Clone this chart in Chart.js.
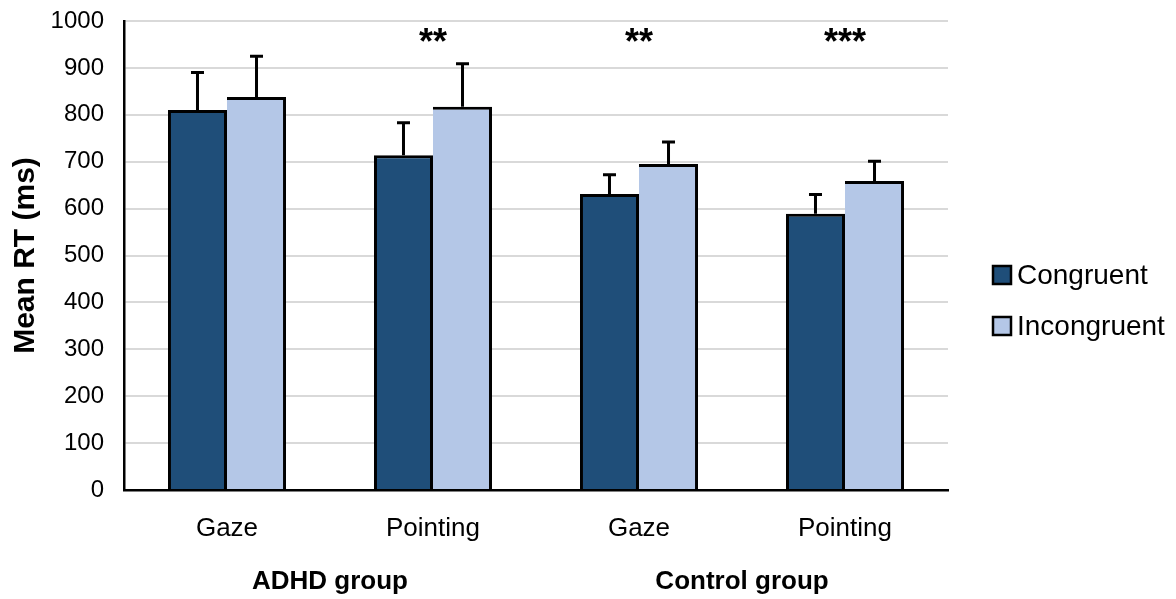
<!DOCTYPE html>
<html>
<head>
<meta charset="utf-8">
<script src="https://cdn.jsdelivr.net/npm/chart.js@4.4.1/dist/chart.umd.min.js"></script>
<style>
  html, body { margin: 0; padding: 0; background: #fff; }
  #wrap { width: 1176px; height: 599px; position: relative; }
</style>
</head>
<body>
<div id="wrap"><canvas id="c" width="1176" height="599"></canvas></div>
<script>
const categories = ['Gaze', 'Pointing', 'Gaze', 'Pointing'];
const groupLabels = ['ADHD group', 'Control group'];
const seriesNames = ['Congruent', 'Incongruent'];
const congruent = [810, 714, 631, 589];
const incongruent = [838, 817, 695, 659];
const congruentErr = [80, 69, 41, 41];
const incongruentErr = [87, 92, 47, 42];
const significance = ['', '**', '**', '***'];
const yTicks = [0, 100, 200, 300, 400, 500, 600, 700, 800, 900, 1000];

const DARK = '#1f4e79';
const LIGHT = '#b4c7e7';
const FONT = '"Liberation Sans", Arial, sans-serif';

Chart.defaults.font.family = FONT;
Chart.defaults.color = '#000';

const errors = [congruentErr, incongruentErr];

const overlay = {
  id: 'overlay',
  afterDatasetsDraw(chart) {
    const ctx = chart.ctx;
    const y = chart.scales.y;
    const x = chart.scales.x;
    ctx.save();
    // error bars (upper only)
    ctx.strokeStyle = '#000';
    ctx.lineWidth = 3;
    chart.data.datasets.forEach((ds, di) => {
      const meta = chart.getDatasetMeta(di);
      meta.data.forEach((bar, i) => {
        const top = y.getPixelForValue(ds.data[i] + errors[di][i]);
        const base = y.getPixelForValue(ds.data[i]);
        ctx.beginPath();
        ctx.moveTo(bar.x, base);
        ctx.lineTo(bar.x, top);
        ctx.moveTo(bar.x - 6.5, top);
        ctx.lineTo(bar.x + 6.5, top);
        ctx.stroke();
      });
    });
    // significance stars
    ctx.fillStyle = '#000';
    ctx.font = 'bold 36px ' + FONT;
    ctx.textAlign = 'center';
    ctx.textBaseline = 'middle';
    significance.forEach((s, i) => {
      if (s) ctx.fillText(s, x.getPixelForValue(i), 44);
    });
    // group labels
    ctx.font = 'bold 26px ' + FONT;
    groupLabels.forEach((g, gi) => {
      const cx = (x.getPixelForValue(gi * 2) + x.getPixelForValue(gi * 2 + 1)) / 2;
      ctx.fillText(g, cx, 582);
    });
    // legend
    ctx.textAlign = 'left';
    ctx.font = '28px ' + FONT;
    const colors = [DARK, LIGHT];
    const legendY = [275, 326];
    seriesNames.forEach((n, i) => {
      ctx.fillStyle = colors[i];
      ctx.fillRect(993, legendY[i] - 9, 18, 18);
      ctx.lineWidth = 2.5;
      ctx.strokeStyle = '#000';
      ctx.strokeRect(993, legendY[i] - 9, 18, 18);
      ctx.fillStyle = '#000';
      ctx.fillText(n, 1017, legendY[i] + 1);
    });
    ctx.restore();
  }
};

new Chart(document.getElementById('c'), {
  type: 'bar',
  data: {
    labels: categories,
    datasets: [
      {
        label: seriesNames[0],
        data: congruent,
        backgroundColor: DARK,
        borderColor: '#000',
        borderWidth: { top: 3, left: 3, right: 3, bottom: 0 },
        borderSkipped: false,
        categoryPercentage: 0.573,
        barPercentage: 1.0
      },
      {
        label: seriesNames[1],
        data: incongruent,
        backgroundColor: LIGHT,
        borderColor: '#000',
        borderWidth: { top: 3, left: 0, right: 3, bottom: 0 },
        borderSkipped: false,
        categoryPercentage: 0.573,
        barPercentage: 1.0
      }
    ]
  },
  options: {
    responsive: false,
    animation: false,
    layout: { padding: { left: 0, right: 228, top: 21, bottom: 0 } },
    plugins: {
      legend: { display: false },
      tooltip: { enabled: false }
    },
    scales: {
      x: {
        grid: { display: false, drawTicks: false },
        border: { display: true, color: '#000', width: 2.5 },
        ticks: { font: { size: 26 }, color: '#000', padding: 23 },
        afterFit(scale) {
          scale.height = 109;
          scale.paddingLeft = 0;
          scale.paddingRight = 0;
        }
      },
      y: {
        min: 0,
        max: 1000,
        afterBuildTicks(scale) { scale.ticks = yTicks.map(v => ({ value: v })); },
        grid: { color: '#d9d9d9', lineWidth: 2, drawTicks: false },
        border: { display: true, color: '#000', width: 2.5 },
        ticks: { font: { size: 24 }, color: '#000', padding: 20, callback: (v) => String(v) },
        title: {
          display: true,
          text: 'Mean RT (ms)',
          font: { size: 30, weight: 'bold' },
          color: '#000',
          padding: { top: 8, bottom: 0 }
        },
        afterFit(scale) {
          scale.width = 124;
          scale.paddingTop = 0;
          scale.paddingBottom = 0;
        }
      }
    }
  },
  plugins: [overlay]
});
</script>
</body>
</html>
